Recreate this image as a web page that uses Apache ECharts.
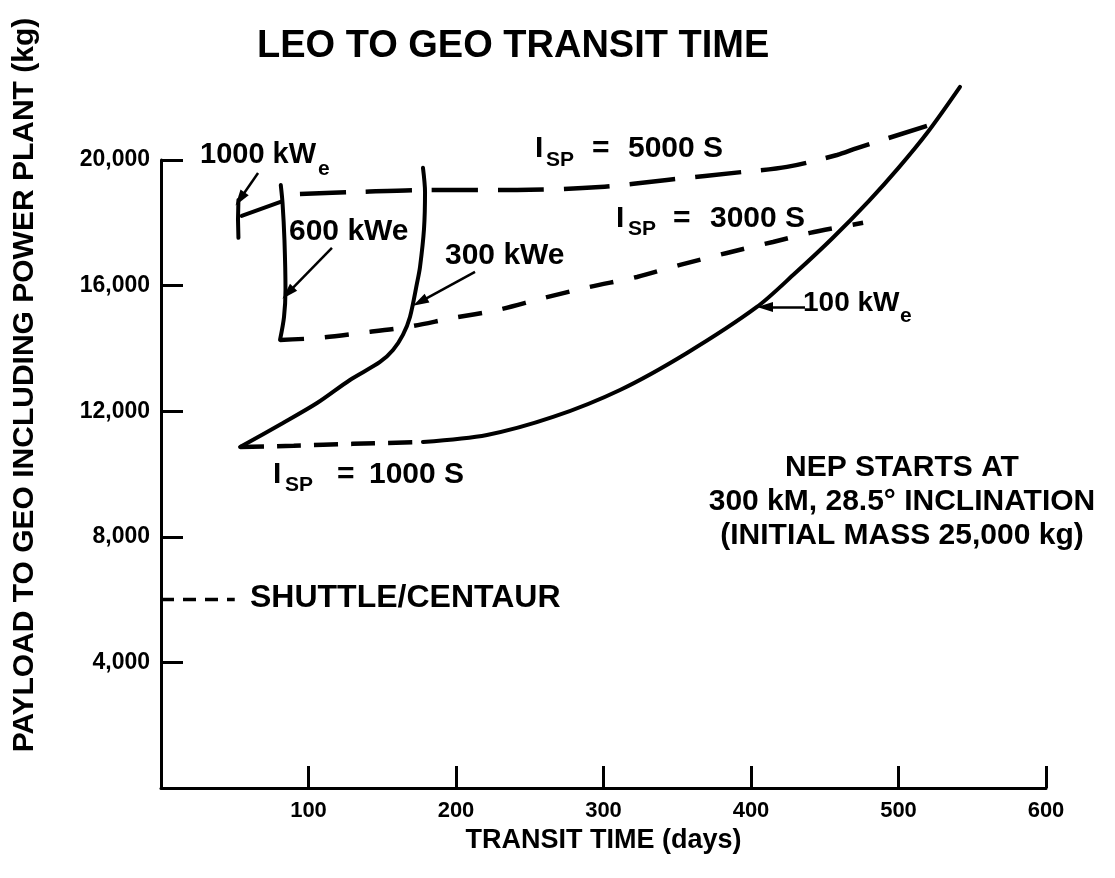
<!DOCTYPE html>
<html><head><meta charset="utf-8">
<script src="https://cdn.jsdelivr.net/npm/echarts@6/dist/echarts.min.js"></script>
<style>html,body{margin:0;padding:0;background:#fff}#c{width:1115px;height:878px}</style>
</head><body><div id="c"></div>
<script>
// ---- data (days, kg) ----
const xTickValues = [0, 100, 200, 300, 400, 500, 600];
const yTickValues = [0, 4000, 8000, 12000, 16000, 20000];
const kwe1000 = [[52.5, 18730], [52.2, 18100], [52.5, 17520]];
const link1000to600 = [[54.7, 18220], [82.0, 18680]];
const kwe600 = [[81.2, 19205], [82.4, 18630], [83.7, 17450], [84.4, 15860], [83.4, 15000], [80.7, 14270]];
const kwe300 = [[53.6, 10860], [82.7, 11625], [105.8, 12260], [128.1, 12995], [148.5, 13568], [157.3, 13950], [164.0, 14430], [168.8, 15000], [173.6, 16085], [175.6, 16594], [178.3, 17800], [179.0, 18980], [177.6, 19750]];
const kwe100 = [[177.6, 11020], [221.0, 11243], [265.8, 11816], [311.2, 12676], [356.6, 13855], [404.0, 15320], [430.0, 16400], [455.0, 17500], [480.0, 18700], [500.0, 19750], [520.0, 20900], [541.7, 22330]];
const isp1000 = [[53.6, 10860], [90.0, 10900], [130.0, 10960], [177.6, 11020]];
const isp3000 = [[80.7, 14270], [105.8, 14330], [134.9, 14490], [166.8, 14680], [198.0, 14970], [227.8, 15220], [259.0, 15600], [290.8, 15960], [322.7, 16275], [351.9, 16660], [383.7, 17040], [414.9, 17390], [440.0, 17680], [476.0, 18000]];
const isp5000 = [[94.2, 18919], [132.9, 18983], [180.3, 19046], [241.4, 19046], [297.6, 19140], [343.0, 19365], [394.6, 19620], [424.4, 19780], [458.3, 20160], [471.9, 20380], [519.3, 21085]];
const shuttleCentaur = [[0, 6000], [50, 6000]];
// annotation arrows: [from, to] in data coordinates
const arrow1000 = [[65.8, 19588], [53.6, 18760]];
const arrow600 = [[115.9, 17200], [86.1, 15765]];
const arrow300 = [[212.9, 16435], [175.6, 15480]];
const arrow100 = [[436.6, 15320], [409.5, 15320]];

const FONT = "'Liberation Sans', Arial, Helvetica, sans-serif";
const chart = echarts.init(document.getElementById('c'), null, {renderer: 'canvas'});

function arrowLine(a) {
  return {
    silent: true, symbol: ['none', 'triangle'], symbolSize: [10, 16],
    label: {show: false}, emphasis: {disabled: true},
    lineStyle: {color: '#000', width: 2.5, type: 'solid'},
    data: [[{coord: a[0]}, {coord: a[1]}]]
  };
}
function curve(name, data, dash, width, smooth, arrow) {
  const s = {
    name, type: 'line', data, showSymbol: false, symbol: 'none',
    smooth: smooth, clip: false, silent: true, animation: false,
    lineStyle: {color: '#000', width: width, type: dash, cap: dash === 'solid' ? 'round' : 'butt'}
  };
  if (arrow) s.markLine = arrowLine(arrow);
  return s;
}
function txt(text, x, y, size, align) {
  return {type: 'text', x, y, silent: true,
    style: {text, fill: '#000', fontFamily: FONT, fontWeight: 'bold', fontSize: size,
      align: align || 'left', verticalAlign: 'middle'}};
}

const option = {
  backgroundColor: '#fff',
  animation: false,
  title: {
    text: 'LEO TO GEO TRANSIT TIME', left: 252, top: 23,
    textStyle: {fontFamily: FONT, fontWeight: 'bold', fontSize: 38, color: '#000'}
  },
  grid: {left: 161, right: 69, top: 160, bottom: 90, containLabel: false},
  xAxis: {
    type: 'value', min: xTickValues[0], max: xTickValues[xTickValues.length - 1], interval: 100,
    name: 'TRANSIT TIME (days)', nameLocation: 'middle', nameGap: 23,
    nameTextStyle: {fontFamily: FONT, fontWeight: 'bold', fontSize: 27, color: '#000'},
    axisLine: {show: true, lineStyle: {color: '#000', width: 3}},
    axisTick: {show: true, inside: true, length: 22, lineStyle: {color: '#000', width: 3}},
    splitLine: {show: false},
    axisLabel: {margin: 12, color: '#000', fontFamily: FONT, fontWeight: 'bold', fontSize: 22,
      formatter: v => (v === 0 ? '' : String(v))}
  },
  yAxis: {
    type: 'value', min: yTickValues[0], max: yTickValues[yTickValues.length - 1], interval: 4000,
    axisLine: {show: true, lineStyle: {color: '#000', width: 3}},
    axisTick: {show: true, inside: true, length: 22, lineStyle: {color: '#000', width: 3}},
    splitLine: {show: false},
    axisLabel: {margin: 11, color: '#000', fontFamily: FONT, fontWeight: 'bold', fontSize: 23,
      formatter: v => (v === 0 ? '' : v.toLocaleString('en-US'))}
  },
  series: [
    curve('1000 kWe', kwe1000, 'solid', 4, false, arrow1000),
    curve('1000-600 link', link1000to600, 'solid', 4, false),
    curve('600 kWe', kwe600, 'solid', 4, 0.3, arrow600),
    curve('300 kWe', kwe300, 'solid', 4, 0.3, arrow300),
    curve('100 kWe', kwe100, 'solid', 4, 0.3, arrow100),
    curve('ISP = 1000 S', isp1000, [24, 13], 4.5, 0.3),
    curve('ISP = 3000 S', isp3000, [24, 21], 4.5, 0.3),
    curve('ISP = 5000 S', isp5000, [46, 20], 4.5, 0.3),
    curve('SHUTTLE/CENTAUR', shuttleCentaur, [13, 9], 3.5, false)
  ],
  graphic: [
    {type: 'text', x: 25, y: 385, rotation: Math.PI / 2, silent: true,
      style: {text: 'PAYLOAD TO GEO INCLUDING POWER PLANT (kg)', fill: '#000', fontFamily: FONT,
        fontWeight: 'bold', fontSize: 30, align: 'center', verticalAlign: 'middle'}},
    txt('1000 kW', 200, 155, 29), txt('e', 318, 169, 21),
    txt('600 kWe', 289, 232, 30),
    txt('300 kWe', 445, 256, 30),
    txt('100 kW', 803, 303, 28), txt('e', 900, 316, 21),
    txt('I', 535, 149, 30), txt('SP', 546, 160, 21), txt('=', 592, 149, 30), txt('5000 S', 628, 149, 30),
    txt('I', 616, 219, 30), txt('SP', 628, 229, 21), txt('=', 673, 219, 30), txt('3000 S', 710, 219, 30),
    txt('I', 273, 475, 30), txt('SP', 285, 485, 21), txt('=', 337, 475, 30), txt('1000 S', 369, 475, 30),
    txt('SHUTTLE/CENTAUR', 250, 598, 32),
    txt('NEP STARTS AT', 902, 468, 30, 'center'),
    txt('300 kM, 28.5° INCLINATION', 902, 502, 30, 'center'),
    txt('(INITIAL MASS 25,000 kg)', 902, 536, 30, 'center')
  ]
};
chart.setOption(option);
</script>
</body></html>
